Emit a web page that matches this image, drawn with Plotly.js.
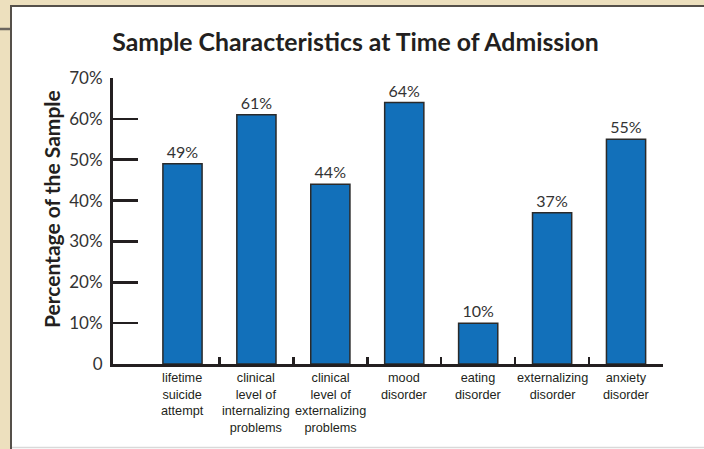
<!DOCTYPE html>
<html>
<head>
<meta charset="utf-8">
<script src="https://cdn.plot.ly/plotly-3.0.1.min.js"></script>
<style>
  html, body { margin: 0; padding: 0; background: #ffffff; }
  #chart { width: 704px; height: 449px; }
</style>
</head>
<body>
<div id="chart"></div>
<script>
// ---- data ----
const categories = [
  "lifetime<br>suicide<br>attempt",
  "clinical<br>level of<br>internalizing<br>problems",
  "clinical<br>level of<br>externalizing<br>problems",
  "mood<br>disorder",
  "eating<br>disorder",
  "externalizing<br>disorder",
  "anxiety<br>disorder"
];
const values = [49, 61, 44, 64, 10, 37, 55];
const yTickVals = [0, 10, 20, 30, 40, 50, 60, 70];
const yTickText = ["0", "10%", "20%", "30%", "40%", "50%", "60%", "70%"];
const chartTitle = "Sample Characteristics at Time of Admission";
const yTitle = "Percentage of the Sample";

// ---- drawing ----
const FONT = 'Lato, "Liberation Sans", sans-serif';
const SMALL = '"Liberation Sans", Arial, sans-serif';
const INK = '#231F20';
const positions = categories.map((_, i) => i);
const boundaries = categories.map((_, i) => i + 0.5);

const PL = 113, PT = 78, PW = 550, PH = 286;
const px = x => (x - PL) / PW;          // pixel -> paper x
const py = y => (PT + PH - y) / PH;     // pixel -> paper y

const trace = {
  type: 'bar',
  x: positions,
  y: values,
  width: 0.53,
  marker: { color: '#1270BA', line: { color: '#2a2a2a', width: 1.5 } },
  text: values.map(v => v + '%'),
  textposition: 'outside',
  textfont: { family: FONT, size: 16, color: '#333333' },
  cliponaxis: false,
  hoverinfo: 'none'
};

const annotations = categories.map((c, i) => ({
  x: i, y: 0, xref: 'x', yref: 'y',
  text: c, showarrow: false,
  yanchor: 'top', xanchor: 'center', yshift: -5,
  font: { family: SMALL, size: 12.7, color: INK },
  align: 'center'
}));
annotations.push({
  x: px(51), y: py(209), xref: 'paper', yref: 'paper',
  text: '<b>' + yTitle + '</b>', showarrow: false, textangle: -90,
  xanchor: 'center', yanchor: 'middle',
  font: { family: FONT, size: 21, color: INK }
});

const shapes = [
  { type: 'rect', xref: 'paper', yref: 'paper', layer: 'below',
    x0: px(11), x1: 1.2, y0: -0.4, y1: py(6),
    fillcolor: '#ffffff', line: { width: 0 } },
  { type: 'line', xref: 'paper', yref: 'paper', layer: 'below',
    x0: px(10), x1: 1.2, y0: py(6), y1: py(6),
    line: { color: '#55504A', width: 2 } },
  { type: 'line', xref: 'paper', yref: 'paper', layer: 'below',
    x0: px(11), x1: px(11), y0: -0.4, y1: py(5),
    line: { color: '#55504A', width: 2 } },
  { type: 'line', xref: 'paper', yref: 'paper', layer: 'below',
    x0: -0.3, x1: px(10), y0: py(29), y1: py(29),
    line: { color: '#6b655e', width: 2.5 } },
  { type: 'line', xref: 'paper', yref: 'paper', layer: 'below',
    x0: px(12), x1: 1.2, y0: py(447.5), y1: py(447.5),
    line: { color: '#d9d9d9', width: 1.5 } }
];

const layout = {
  width: 704, height: 449,
  margin: { l: PL, r: 704 - PL - PW, t: PT, b: 449 - PT - PH, pad: 0 },
  paper_bgcolor: '#EDE0BE',
  plot_bgcolor: 'rgba(0,0,0,0)',
  showlegend: false,
  title: {
    text: '<b>' + chartTitle + '</b>',
    font: { family: FONT, size: 24.8, color: INK },
    x: 0.505, xanchor: 'center', y: 0.905, yanchor: 'middle'
  },
  xaxis: {
    range: [-0.94, 6.5],
    tickmode: 'array', tickvals: boundaries, showticklabels: false,
    ticks: 'inside', ticklen: 7, tickwidth: 2.5, tickcolor: INK,
    showline: true, linecolor: INK, linewidth: 3,
    showgrid: false, zeroline: false, fixedrange: true
  },
  yaxis: {
    range: [0, 70],
    tickmode: 'array', tickvals: yTickVals, ticktext: yTickText,
    ticks: 'inside', ticklen: 25, tickwidth: 2.5, tickcolor: INK,
    tickfont: { family: FONT, size: 17, color: '#333333' },
    ticklabelstandoff: 4,
    showline: true, linecolor: INK, linewidth: 3,
    showgrid: false, zeroline: false, fixedrange: true
  },
  annotations: annotations,
  shapes: shapes
};

Plotly.newPlot('chart', [trace], layout, { displayModeBar: false, staticPlot: true });
</script>
</body>
</html>
